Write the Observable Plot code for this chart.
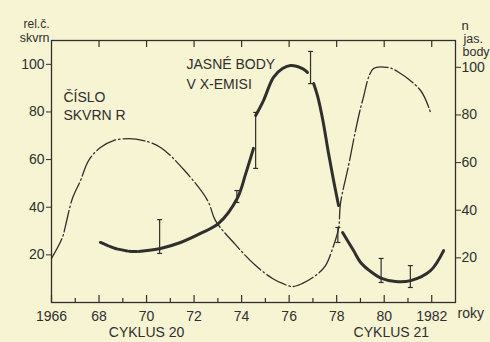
<!DOCTYPE html>
<html>
<head>
<meta charset="utf-8">
<script src="https://cdn.jsdelivr.net/npm/d3@7"></script>
<script src="https://cdn.jsdelivr.net/npm/@observablehq/plot@0.6"></script>
<style>
  html, body { margin: 0; padding: 0; background: #f7f4d4; }
</style>
</head>
<body>
<div id="chart"></div>
<script>
// Sunspot relative number R (thin dash-dot curve, left axis)
const sunYears = [1966.0, 1966.46, 1966.59, 1966.88, 1967.22, 1967.56, 1968.06, 1968.61, 1969.24, 1969.87, 1970.59, 1971.6, 1972.57, 1972.9, 1973.74, 1974.59, 1975.3, 1975.72, 1976.14, 1976.56, 1977.11, 1977.53, 1977.87, 1978.08, 1978.16, 1978.5, 1978.79, 1979.09, 1979.55, 1980.14, 1980.56, 1981.53, 1981.95];
const sunR     = [18.5, 27.3, 32.3, 43.7, 51.2, 59.6, 65.1, 68.0, 68.8, 68.0, 65.1, 55.4, 42.8, 34.4, 24.3, 15.5, 10.1, 8.0, 6.7, 8.0, 11.3, 15.5, 23.9, 31.1, 41.6, 57.5, 72.0, 84.8, 98.2, 98.7, 97.0, 89.0, 79.8];

// Bright X-ray points (thick curve, right axis), drawn in pieces
const brightSeg   = [1, 1, 1, 1,   2, 2, 2, 2, 2, 2, 2, 2,   3, 3, 3, 3, 3, 3, 3,   4, 4, 4, 4, 4, 4,   5, 5, 5, 5, 5, 5, 5, 5, 5];
const brightYears = [1968.06, 1968.69, 1969.45, 1970.04,
                     1970.04, 1970.59, 1971.43, 1972.27, 1973.03, 1973.83, 1974.17, 1974.5,
                     1974.59, 1974.92, 1975.34, 1975.72, 1976.06, 1976.56, 1976.77,
                     1977.03, 1977.2, 1977.42, 1977.65, 1977.87, 1978.08,
                     1978.25, 1978.71, 1979.0, 1979.43, 1979.89, 1980.48, 1981.11, 1981.95, 1982.5];
const brightN     = [25.2, 22.7, 21.4, 21.8,
                     21.8, 22.7, 25.2, 29.0, 33.2, 44.0, 54.0, 64.7,
                     78.5, 84.8, 94.5, 98.2, 99.5, 98.2, 96.6,
                     91.9, 86.5, 76.4, 63.0, 51.2, 40.7,
                     29.4, 21.8, 16.9, 13.0, 10.1, 8.8, 9.2, 13.4, 21.8];

// Error bars on the bright-point counts
const errYears = [1970.55, 1973.8, 1974.59, 1976.9, 1978.05, 1979.87, 1981.1];
const errLow   = [20.6, 42.0, 56.3, 91.9, 25.2, 8.4, 6.3];
const errHigh  = [34.8, 47.0, 79.8, 105.4, 31.5, 18.5, 15.5];

// Axis ticks
const xTicks      = [1966, 1968, 1970, 1972, 1974, 1976, 1978, 1980, 1982];
const xTickLabels = ["1966", "68", "70", "72", "74", "76", "78", "80", "1982"];
const xMinorTicks = [1967, 1969, 1971, 1973, 1975, 1977, 1979, 1981];
const xTopTicks   = [1968, 1970, 1972, 1974, 1976, 1978, 1980, 1982];
const yTicks      = [20, 40, 60, 80, 100];

// Annotations
const annText = ["ČÍSLO", "SKVRN R", "JASNÉ BODY", "V X-EMISI"];
const annX    = [1966.5, 1966.5, 1971.68, 1971.68];
const annY    = [85.9, 78.7, 100.1, 91.7];
const cycleText = ["CYKLUS 20", "CYKLUS 21"];
const cycleX    = [1970.0, 1980.3];

const sunData = sunYears.map((x, i) => ({x, y: sunR[i]}));
const brightData = brightYears.map((x, i) => ({x, y: brightN[i], seg: brightSeg[i]}));
const errData = errYears.map((x, i) => ({x, lo: errLow[i], hi: errHigh[i]}));
const annData = annText.map((t, i) => ({t, x: annX[i], y: annY[i]}));
const cycleData = cycleText.map((t, i) => ({t, x: cycleX[i]}));
const labelMap = new Map(xTicks.map((d, i) => [d, xTickLabels[i]]));

const ink = "#2f2f2d";
const capSymbol = { draw(ctx) { ctx.moveTo(-2.5, 0); ctx.lineTo(2.5, 0); } };
const innerH = 342 - 40 - 40;

const chart = Plot.plot({
  width: 490,
  height: 342,
  marginLeft: 51,
  marginRight: 35,
  marginTop: 40,
  marginBottom: 40,
  x: {domain: [1966, 1983]},
  y: {domain: [0, 110]},
  style: {background: "#f7f4d4", color: ink, fontFamily: "'Liberation Sans', Arial, sans-serif", fontSize: "14px"},
  marks: [
    Plot.frame({stroke: ink, strokeWidth: 1.3}),
    Plot.tickX(xTicks, {x: d => d, insetTop: innerH - 7, stroke: ink, strokeWidth: 1.2}),
    Plot.tickX(xMinorTicks, {x: d => d, insetTop: innerH - 4, stroke: ink, strokeWidth: 1.2}),
    Plot.tickX(xTopTicks, {x: d => d, insetBottom: innerH - 7, stroke: ink, strokeWidth: 1.2}),
    Plot.axisX({ticks: xTicks, tickFormat: d => labelMap.get(d), tickSize: 0, tickPadding: 9, label: null}),
    Plot.axisY({anchor: "left", ticks: yTicks, tickSize: 5, tickPadding: 2, label: null}),
    Plot.axisY({anchor: "right", ticks: yTicks, tickSize: 5, tickPadding: 1, label: null, dy: 3}),
    // sunspot curve
    Plot.line(sunData, {x: "x", y: "y", curve: "catmull-rom", stroke: ink, strokeWidth: 1.3, strokeDasharray: "22,3,1.5,3"}),
    // bright points curve
    Plot.line(brightData.filter(d => d.seg === 1), {x: "x", y: "y", curve: "catmull-rom", stroke: ink, strokeWidth: 3, strokeDasharray: "8,2"}),
    Plot.line(brightData.filter(d => d.seg > 1), {x: "x", y: "y", z: "seg", curve: "catmull-rom", stroke: ink, strokeWidth: 3}),
    // error bars
    Plot.ruleX(errData, {x: "x", y1: "lo", y2: "hi", stroke: ink, strokeWidth: 1.2}),
    Plot.dot(errData, {x: "x", y: "lo", symbol: capSymbol, r: 3, stroke: ink, strokeWidth: 1.2, fill: "none"}),
    Plot.dot(errData, {x: "x", y: "hi", symbol: capSymbol, r: 3, stroke: ink, strokeWidth: 1.2, fill: "none"}),
    // annotations
    Plot.text(annData, {x: "x", y: "y", text: "t", textAnchor: "start", lineAnchor: "middle", fontSize: 14}),
    Plot.text(cycleData, {x: "x", text: "t", frameAnchor: "bottom", dy: 34, fontSize: 14}),
    Plot.text(["roky"], {frameAnchor: "bottom-right", textAnchor: "start", dx: 2, dy: 15, fontSize: 14}),
    Plot.text(["rel.č."], {frameAnchor: "top-left", textAnchor: "end", dx: -2, dy: -21.5, fontSize: 12}),
    Plot.text(["skvrn"], {frameAnchor: "top-left", textAnchor: "end", dx: -2, dy: -7.5, fontSize: 12.5}),
    Plot.text(["n"], {frameAnchor: "top-right", textAnchor: "start", dx: 6, dy: -20, fontSize: 13}),
    Plot.text(["jas."], {frameAnchor: "top-right", textAnchor: "start", dx: 8, dy: -6.5, fontSize: 12.5}),
    Plot.text(["body"], {frameAnchor: "top-right", textAnchor: "start", dx: 7, dy: 6.5, fontSize: 12.5})
  ]
});
document.getElementById("chart").appendChild(chart);
</script>
</body>
</html>
